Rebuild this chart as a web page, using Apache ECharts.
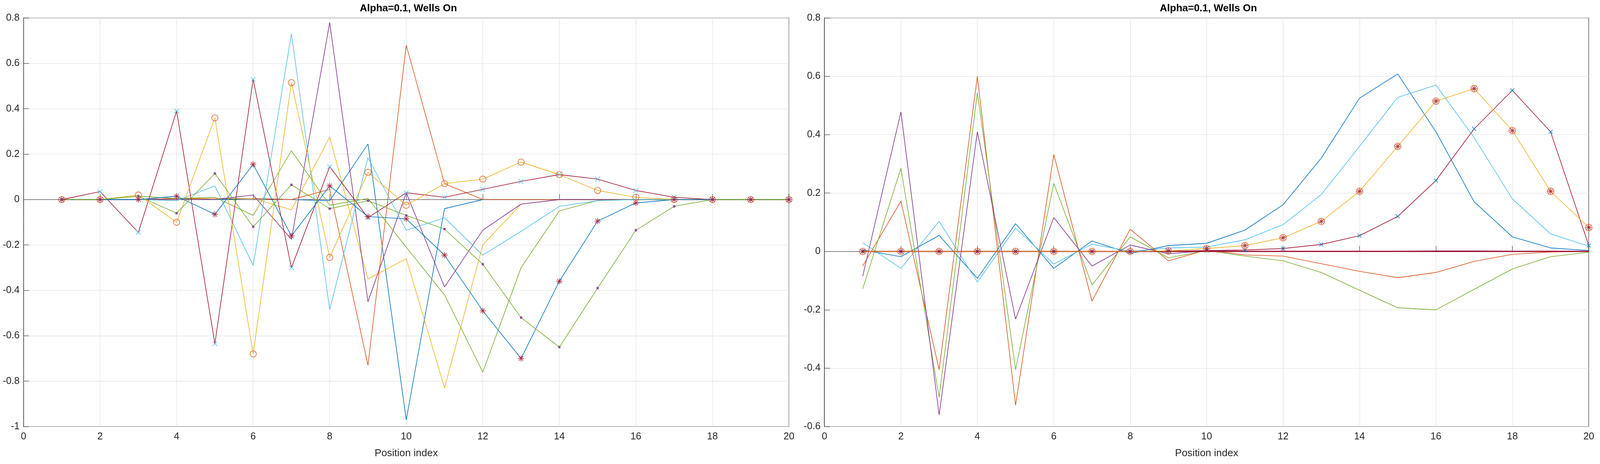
<!DOCTYPE html>
<html><head><meta charset="utf-8">
<script src="https://cdn.jsdelivr.net/npm/echarts@6/dist/echarts.min.js"></script>
<style>html,body{margin:0;padding:0;background:#fff;overflow:hidden}#c{width:100vw;height:100vh}</style>
</head><body><div id="c"></div>
<script>
const positions = [1,2,3,4,5,6,7,8,9,10,11,12,13,14,15,16,17,18,19,20];
const xTicks = [0,2,4,6,8,10,12,14,16,18,20];
const title = 'Alpha=0.1, Wells On';
const xLabel = 'Position index';

// Left panel
const L_darkred = [0,0.035,-0.145,0.39,-0.635,0.53,-0.3,0.145,-0.08,0.03,0.01,0.045,0.08,0.11,0.09,0.04,0.01,0,0,0];
const L_yellowO = [0,0,0.02,-0.1,0.36,-0.68,0.515,-0.255,0.12,-0.025,0.07,0.09,0.165,0.11,0.04,0.01,0,0,0,0];
const L_blueStar = [0,0,0,0.015,-0.065,0.155,-0.16,0.06,-0.075,-0.085,-0.245,-0.49,-0.7,-0.36,-0.095,-0.015,0,0,0,0];
const L_greenSq = [0,0,0.015,-0.06,0.115,-0.12,0.065,-0.04,-0.005,-0.07,-0.13,-0.285,-0.52,-0.65,-0.39,-0.135,-0.03,0,0,0];
const L_blue = [0,0,0,0.005,0,0.005,0,-0.005,0.245,-0.97,-0.04,0,0,0,0,0,0,0,0,0];
const L_orange = [0,0,0,0.005,0.005,0.005,0,0.045,-0.73,0.68,0.07,0,0,0,0,0,0,0,0,0];
const L_yellow = [0,0,0,0,0.005,0.005,-0.045,0.275,-0.35,-0.26,-0.83,-0.2,-0.02,0,0,0,0,0,0,0];
const L_purple = [0,0,0,0,0,0.02,-0.175,0.78,-0.45,0.03,-0.385,-0.135,-0.02,0,0,0,0,0,0,0];
const L_green = [0,0,0.015,0.005,0.01,-0.07,0.215,-0.025,0.005,-0.21,-0.42,-0.76,-0.3,-0.05,-0.004,0,0,0,0,0];
const L_cyan = [0,0,0,-0.005,0.06,-0.29,0.73,-0.485,0.185,-0.135,-0.08,-0.245,-0.14,-0.03,-0.005,0,0,0,0,0];

// Right panel
const R_blue = [0.005,-0.018,0.055,-0.092,0.095,-0.058,0.036,-0.007,0.02,0.028,0.073,0.16,0.32,0.525,0.608,0.41,0.17,0.05,0.012,0.003];
const R_cyan = [0.03,-0.058,0.103,-0.105,0.08,-0.043,0.025,0,0.012,0.015,0.04,0.092,0.195,0.36,0.528,0.57,0.39,0.18,0.06,0.018];
const R_yellowO = [0,0,0,0,0,0,0,0,0.002,0.01,0.02,0.047,0.103,0.206,0.36,0.515,0.558,0.414,0.206,0.082];
const R_darkredX = [0,0,0,0,0,0,0,0,0.001,0.003,0.005,0.01,0.024,0.054,0.12,0.243,0.42,0.552,0.41,0.02];
const R_orange = [-0.05,0.172,-0.405,0.6,-0.527,0.332,-0.17,0.076,-0.032,0.005,-0.012,-0.016,-0.042,-0.068,-0.09,-0.072,-0.034,-0.01,-0.002,0];
const R_green = [-0.128,0.285,-0.5,0.545,-0.405,0.233,-0.115,0.05,-0.022,0.003,-0.016,-0.032,-0.072,-0.133,-0.193,-0.2,-0.13,-0.06,-0.018,-0.003];
const R_purple = [-0.085,0.478,-0.56,0.41,-0.232,0.116,-0.05,0.022,-0.008,0.002,0.001,0.001,0.001,0.001,0.001,0.002,0.002,0.001,0.001,0.001];
const R_zero = [0,0,0,0,0,0,0,0,0,0,0,0,0,0,0,0,0,0,0,0];

const C = {blue:'#0072BD',orange:'#D95319',yellow:'#EDB120',purple:'#7E2F8E',green:'#77AC30',cyan:'#4DBEEE',darkred:'#A2142F'};
const STAR = 'path://M0,5L10,5M5,0L5,10M1.5,1.5L8.5,8.5M8.5,1.5L1.5,8.5';
const XMARK = 'path://M0,0L10,10M10,0L0,10';
const pts = a => a.map((v,i)=>[positions[i],v]);

function line(idx, data, color, width){
  return {type:'line', xAxisIndex:idx, yAxisIndex:idx, data:pts(data), symbol:'none',
    lineStyle:{color, width:width||1.6}, itemStyle:{color}, animation:false, z:2};
}
function markers(idx, data, symbol, mcolor, msize){
  return {type:'scatter', xAxisIndex:idx, yAxisIndex:idx, data:pts(data), symbol, symbolSize:msize||14,
    itemStyle:{color:'transparent', borderColor:mcolor, borderWidth:1.8}, z:5, animation:false};
}

const grids = [{left:'1.47%',right:'50.69%',top:'3.87%',bottom:'8.07%',show:true,borderColor:'#262626',borderWidth:2},
               {left:'51.53%',right:'0.70%',top:'3.87%',bottom:'8.07%',show:true,borderColor:'#262626',borderWidth:2}];
const axisFont = {color:'#262626',fontSize:25,fontFamily:'Liberation Sans Narrow, Liberation Sans, Arial'};
function xAx(i){return {type:'value',gridIndex:i,min:0,max:20,interval:2,name:xLabel,nameLocation:'middle',nameGap:56,
  nameTextStyle:{color:'#262626',fontSize:26,fontFamily:'Liberation Sans Narrow, Liberation Sans'},
  axisLine:{lineStyle:{color:'#262626'}},axisTick:{inside:true,length:14,lineStyle:{color:'#262626'}},
  axisLabel:Object.assign({margin:14},axisFont),splitLine:{lineStyle:{color:'#e6e6e6',width:1.5}}};}
function yAx(i,min){return {type:'value',gridIndex:i,min,max:0.8,interval:0.2,
  axisLine:{lineStyle:{color:'#262626'}},axisTick:{inside:true,length:14,lineStyle:{color:'#262626'}},
  axisLabel:Object.assign({margin:10,formatter:v=>String(Math.round(v*10)/10)},axisFont),splitLine:{lineStyle:{color:'#e6e6e6',width:1.5}}};}

const series = [
  line(0,L_blue,C.blue), line(0,L_orange,C.orange), line(0,L_yellow,C.yellow), line(0,L_purple,C.purple),
  line(0,L_green,C.green), line(0,L_cyan,C.cyan),
  line(0,L_darkred,C.darkred), markers(0,L_darkred,XMARK,C.cyan,12),
  line(0,L_yellowO,C.yellow), markers(0,L_yellowO,'circle',C.orange,16),
  line(0,L_blueStar,C.blue), markers(0,L_blueStar,STAR,C.darkred,16),
  line(0,L_greenSq,C.green), {type:'scatter',xAxisIndex:0,yAxisIndex:0,data:pts(L_greenSq),symbol:'rect',symbolSize:6,itemStyle:{color:C.purple},z:5,animation:false},

  line(1,R_blue,C.blue), line(1,R_cyan,C.cyan), line(1,R_orange,C.orange), line(1,R_green,C.green), line(1,R_purple,C.purple),
  line(1,R_zero,C.darkred,3),
  line(1,R_darkredX,C.darkred), markers(1,R_darkredX,XMARK,C.blue,10),
  line(1,R_yellowO,C.yellow), markers(1,R_yellowO,'circle',C.orange,17), markers(1,R_yellowO,STAR,C.darkred,14)
];

const chart = echarts.init(document.getElementById('c'));
const tStyle = {fontSize:26,fontWeight:'bold',color:'#000',fontFamily:'Liberation Sans Narrow, Liberation Sans'};
chart.setOption({
  animation:false, backgroundColor:'#fff',
  title:[{text:title,left:'25.4%',top:4,textAlign:'center',textStyle:tStyle},
         {text:title,left:'75.4%',top:4,textAlign:'center',textStyle:tStyle}],
  grid:grids,
  xAxis:[xAx(0),xAx(1)],
  yAxis:[yAx(0,-1),yAx(1,-0.6)],
  series
});
window.addEventListener('resize',()=>chart.resize());
</script></body></html>
